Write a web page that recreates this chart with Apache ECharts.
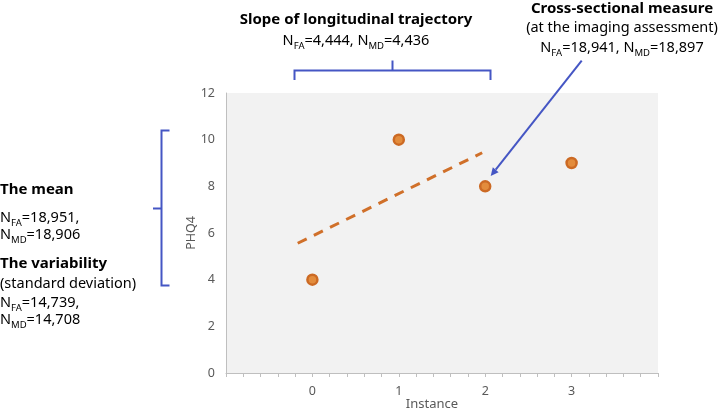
<!DOCTYPE html>
<html>
<head>
<meta charset="utf-8">
<script src="https://cdn.jsdelivr.net/npm/echarts@6/dist/echarts.min.js"></script>
<style>html,body{margin:0;padding:0;background:#fff}#c{width:719px;height:410px}</style>
</head>
<body>
<div id="c"></div>
<script>
// Data
var instances = [0, 1, 2, 3];
var phq4 = [4, 10, 8, 9];
var trendX = [-0.17, 1.965];
var trendY = [5.56, 9.44];
var yTicks = [0, 2, 4, 6, 8, 10, 12];
var xTickLabels = ['0', '1', '2', '3'];

var FONT = '"Noto Sans", sans-serif';
var BLUE = '#4556C4';
var TXT = '#262626';

var rich = {
  b: {fontFamily: FONT, fontSize: 15, fontWeight: 'bold', color: '#111', lineHeight: 20},
  n: {fontFamily: FONT, fontSize: 14.5, color: TXT, lineHeight: 20},
  s: {fontFamily: FONT, fontSize: 9.5, color: TXT, lineHeight: 9, verticalAlign: 'bottom'}
};

function txt(x, yc, line, align) {
  return {
    type: 'text', x: x, y: yc, z: 100,
    style: {text: line, rich: rich, align: align || 'left', verticalAlign: 'middle'}
  };
}

var chart = echarts.init(document.getElementById('c'));
chart.setOption({
  animation: false,
  backgroundColor: '#fff',
  grid: {left: 226, right: 61, top: 93, bottom: 37, show: true, backgroundColor: '#F2F2F2', borderWidth: 0, outerBoundsMode: 'none', containLabel: false},
  xAxis: {
    type: 'value', min: -1, max: 4, interval: 1,
    name: 'Instance', nameLocation: 'middle', nameGap: 25, nameMoveOverlap: false,
    nameTextStyle: {fontFamily: FONT, fontSize: 13, color: '#595959', padding: [0, 20, 0, 0], lineHeight: 13},
    axisLine: {show: true, onZero: false, lineStyle: {color: '#BFBFBF', width: 1}},
    axisTick: {show: true, length: 4, lineStyle: {color: '#BFBFBF'}},
    minorTick: {show: true, splitNumber: 5, length: 4, lineStyle: {color: '#BFBFBF'}},
    splitLine: {show: false},
    axisLabel: {
      fontFamily: FONT, fontSize: 12.5, color: '#595959', margin: 12,
      formatter: function (v) { var i = instances.indexOf(v); return i >= 0 ? xTickLabels[i] : ''; }
    }
  },
  yAxis: {
    type: 'value', min: yTicks[0], max: yTicks[yTicks.length - 1], interval: 2,
    name: 'PHQ4', nameLocation: 'middle', nameGap: 28, nameRotate: 90, nameMoveOverlap: false,
    nameTextStyle: {fontFamily: FONT, fontSize: 12.5, color: '#595959'},
    axisLine: {show: true, onZero: false, lineStyle: {color: '#BFBFBF', width: 1}},
    axisTick: {show: false},
    splitLine: {show: false},
    axisLabel: {fontFamily: FONT, fontSize: 12.5, color: '#595959', margin: 11}
  },
  series: [
    {
      type: 'line', data: trendX.map(function (x, i) { return [x, trendY[i]]; }),
      symbol: 'none', silent: true,
      lineStyle: {color: '#D0702A', width: 3, type: [10, 8]}
    },
    {
      type: 'scatter', data: instances.map(function (x, i) { return [x, phq4[i]]; }),
      symbolSize: 10, z: 5,
      itemStyle: {color: '#E38C3C', borderColor: '#CC6A24', borderWidth: 2.5, opacity: 1}
    }
  ],
  graphic: [
    // top bracket
    {type: 'polyline', z: 100, shape: {points: [[294.5, 80], [294.5, 70.5], [490.5, 70.5], [490.5, 80]]}, style: {stroke: BLUE, lineWidth: 2, fill: null}},
    {type: 'line', z: 100, shape: {x1: 392.5, y1: 60.5, x2: 392.5, y2: 70.5}, style: {stroke: BLUE, lineWidth: 2}},
    // left bracket
    {type: 'polyline', z: 100, shape: {points: [[169.5, 130.5], [161.5, 130.5], [161.5, 285.5], [169.5, 285.5]]}, style: {stroke: BLUE, lineWidth: 2, fill: null}},
    {type: 'line', z: 100, shape: {x1: 153, y1: 208.5, x2: 161.5, y2: 208.5}, style: {stroke: BLUE, lineWidth: 2}},
    // arrow
    {type: 'line', z: 100, shape: {x1: 581.7, y1: 60.7, x2: 495.7, y2: 169.7}, style: {stroke: BLUE, lineWidth: 2}},
    {type: 'polygon', z: 100, shape: {points: [[490.7, 176], [498.6, 172.2], [492.8, 167.3]]}, style: {fill: BLUE}},
    // texts
    txt(356, 20, '{b|Slope of longitudinal trajectory}', 'center'),
    txt(356, 41, '{n|N}{s|FA}{n|=4,444, N}{s|MD}{n|=4,436}', 'center'),
    txt(622, 9, '{b|Cross-sectional measure}', 'center'),
    txt(622, 28, '{n|(at the imaging assessment)}', 'center'),
    txt(622, 48, '{n|N}{s|FA}{n|=18,941, N}{s|MD}{n|=18,897}', 'center'),
    txt(0, 190, '{b|The mean}'),
    txt(0, 218, '{n|N}{s|FA}{n|=18,951,}'),
    txt(0, 235, '{n|N}{s|MD}{n|=18,906}'),
    txt(0, 264, '{b|The variability}'),
    txt(0, 284, '{n|(standard deviation)}'),
    txt(0, 303, '{n|N}{s|FA}{n|=14,739,}'),
    txt(0, 320, '{n|N}{s|MD}{n|=14,708}')
  ]
});
</script>
</body>
</html>
